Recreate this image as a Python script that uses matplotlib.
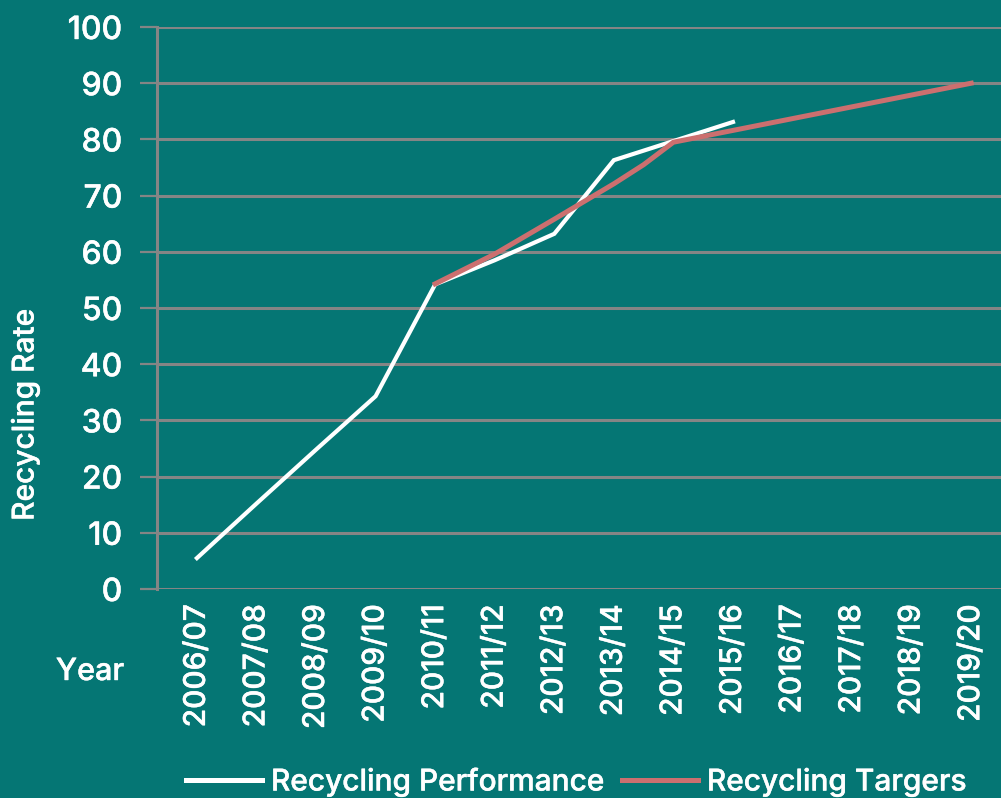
import matplotlib
matplotlib.use("Agg")
import matplotlib.pyplot as plt
from matplotlib.lines import Line2D
import matplotlib.patheffects as pe

plt.rcParams['font.family'] = ['Inter', 'DejaVu Sans']
plt.rcParams['font.weight'] = 'medium'

years = ["2006/07", "2007/08", "2008/09", "2009/10", "2010/11", "2011/12", "2012/13",
         "2013/14", "2014/15", "2015/16", "2016/17", "2017/18", "2018/19", "2019/20"]
perf_x = [0, 1, 2, 3, 4, 5, 6, 7, 8, 9]
perf_y = [5.5, 15.2, 24.8, 34.3, 54.2, 58.5, 63.2, 76.3, 79.7, 83.1]
target_x = [4, 5, 6, 7, 7.5, 8, 13]
target_y = [54.3, 59.6, 65.8, 72.1, 75.5, 79.5, 90.0]
yticks = [0, 10, 20, 30, 40, 50, 60, 70, 80, 90, 100]

BG = '#057674'
GRID = '#858585'
WHITE = '#ffffff'
RED = '#cc6f6f'
BOLDEN = [pe.withStroke(linewidth=0.3, foreground=WHITE)]

fig = plt.figure(figsize=(10.01, 7.98), dpi=100, facecolor=BG)
ax = fig.add_axes([157/1001, 1-589/798, 1-157/1001, (589-27)/798])
ax.set_facecolor(BG)

ax.plot(perf_x, perf_y, color=WHITE, lw=3.0, solid_joinstyle='miter', zorder=3)
ax.plot(target_x, target_y, color=RED, lw=3.6, solid_joinstyle='miter', zorder=3)

ax.set_ylim(0, 100)
ax.set_xlim(-0.67, 13.5)
ax.set_yticks(yticks)
ax.set_yticklabels([str(v) for v in yticks])
ax.set_xticks(range(len(years)))
ax.set_xticklabels(years, rotation=90)
ax.yaxis.grid(True, color=GRID, lw=2.2, zorder=1)
ax.set_axisbelow(True)
for s in ['top', 'right', 'bottom']:
    ax.spines[s].set_visible(False)
ax.spines['left'].set_color(GRID)
ax.spines['left'].set_linewidth(2.2)
ax.tick_params(axis='y', colors=GRID, length=12, width=1.6, labelcolor=WHITE,
               labelsize=23, pad=13)
ax.tick_params(axis='x', length=0, labelcolor=WHITE, labelsize=21.5, pad=11)
for t in ax.get_xticklabels() + ax.get_yticklabels():
    t.set_path_effects(BOLDEN)

fig.text(25/1001, 1-415/798, "Recycling Rate", rotation=90, color=WHITE,
         fontsize=21.5, ha='center', va='center', path_effects=BOLDEN)
fig.text(90/1001, 1-672/798, "Year", color=WHITE, fontsize=22,
         ha='center', va='center', path_effects=BOLDEN)

handles = [Line2D([], [], color=WHITE, lw=3.6),
           Line2D([], [], color=RED, lw=3.6)]
leg = fig.legend(handles, ["Recycling Performance", "Recycling Targers"],
                 loc='center', bbox_to_anchor=(576/1001, 1-782/798), ncol=2,
                 frameon=False, fontsize=21.5, handlelength=2.55,
                 handletextpad=0.3, columnspacing=0.6, labelcolor=WHITE)
for t in leg.get_texts():
    t.set_path_effects(BOLDEN)

fig.savefig("out.png", dpi=100, facecolor=BG)
